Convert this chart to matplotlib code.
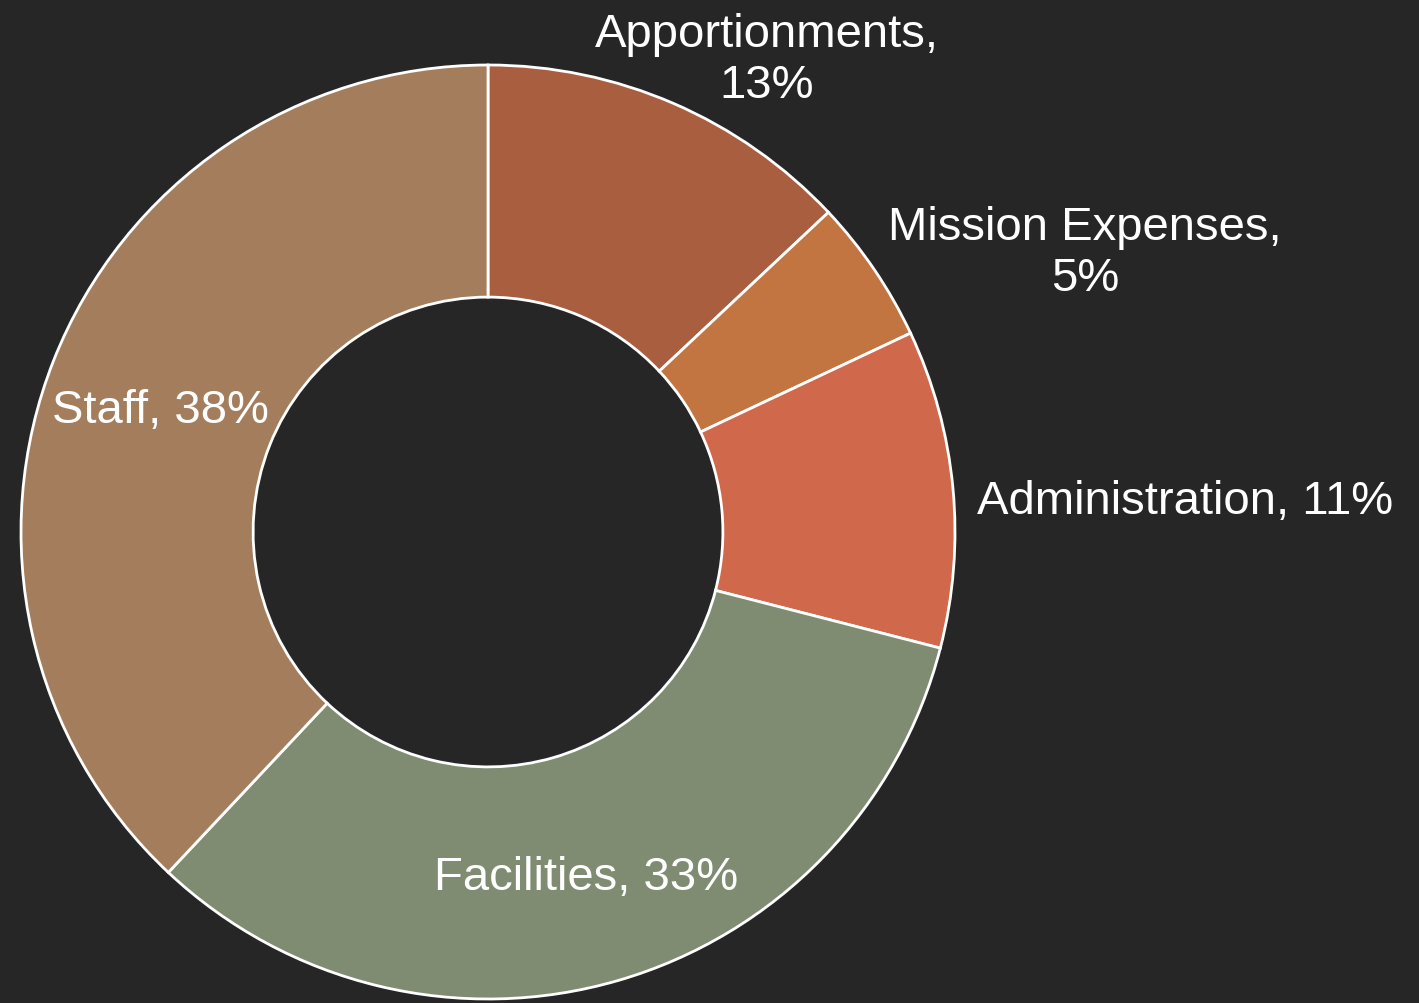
import matplotlib.pyplot as plt

plt.rcParams['font.family'] = ['Liberation Sans', 'DejaVu Sans']

categories = ['Apportionments', 'Mission Expenses', 'Administration', 'Facilities', 'Staff']
shares = [13, 5, 11, 33, 38]
colors = ['#A95E40', '#C27540', '#D0694B', '#7F8C72', '#A47D5D']

# label placement (data units, outer radius = 1)
label_pos = [(0.597, 1.012), (1.278, 0.598), (1.047, 0.066), (0.21, -0.738), (-0.702, 0.262)]
label_ha = ['center', 'center', 'left', 'center', 'center']
label_text = ['Apportionments,\n13%', 'Mission Expenses,\n5%', 'Administration, 11%',
              'Facilities, 33%', 'Staff, 38%']

bg = '#262626'
fig = plt.figure(figsize=(14.19, 10.04), dpi=100, facecolor=bg)
ax = fig.add_axes([0, 0, 1, 1])
ax.set_facecolor(bg)

ax.pie(shares, colors=colors, startangle=90, counterclock=False,
       wedgeprops=dict(width=0.497, edgecolor='white', linewidth=2.0))

for (x, y), ha, t in zip(label_pos, label_ha, label_text):
    ax.text(x, y, t, ha=ha, va='center', color='white', fontsize=34, linespacing=1.22)

ax.set_xlim(-488 / 467, (1419 - 488) / 467)
ax.set_ylim(-471 / 467, 533 / 467)
ax.set_aspect('auto')
ax.axis('off')

fig.savefig('out.png', dpi=100, facecolor=bg)
